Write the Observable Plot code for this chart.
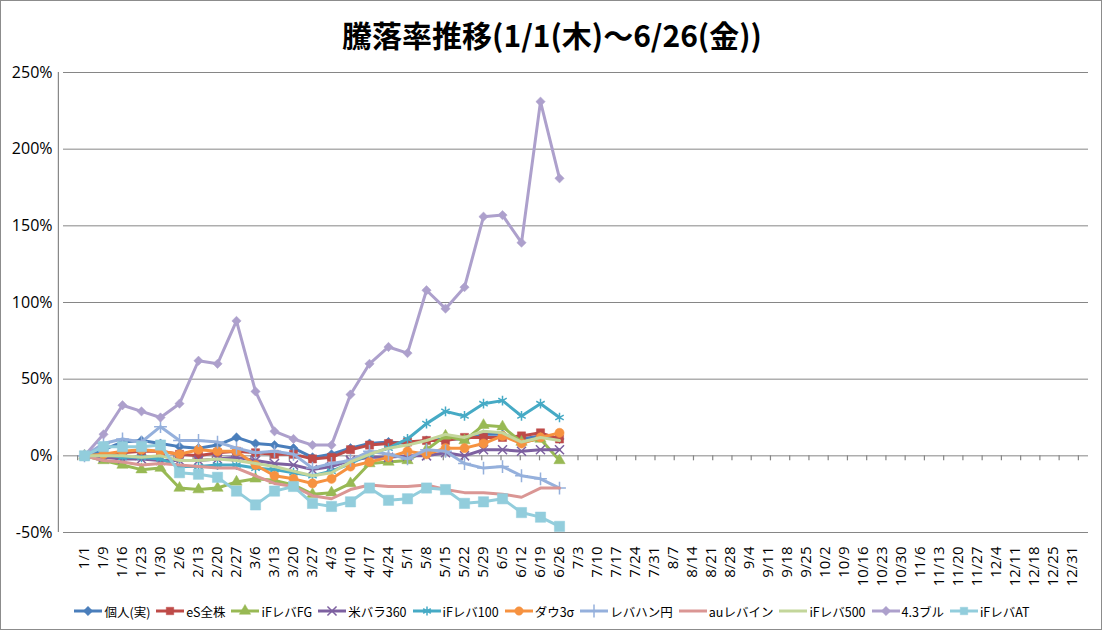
<!DOCTYPE html>
<html><head><meta charset="utf-8">
<script src="https://cdn.jsdelivr.net/npm/d3@7"></script>
<script src="https://cdn.jsdelivr.net/npm/@observablehq/plot@0.6"></script>
<style>
body{margin:0;background:#fff;}
#wrap{position:relative;width:1104px;height:631px;overflow:hidden;background:#fff;}
#frame{position:absolute;left:0;top:0;width:1102px;height:630px;box-sizing:border-box;border:1.5px solid #8c8c8c;pointer-events:none;}
#title{position:absolute;top:4px;left:0;width:1104px;height:60px;line-height:60px;text-align:center;font-family:"Noto Sans CJK JP",sans-serif;font-weight:700;font-size:30px;color:#000;}
#chart{position:absolute;left:0;top:60px;}
#legend{position:absolute;left:0;top:602px;width:1104px;display:flex;justify-content:center;gap:6px;font-family:"Noto Sans CJK JP",sans-serif;font-size:12.5px;color:#000;}
.item{display:flex;align-items:center;gap:2px;height:18px;}
.item svg{display:block;}
</style></head>
<body><div id="wrap"><div id="title">騰落率推移(1/1(木)～6/26(金))</div><div id="chart"></div><div id="legend"></div><div id="frame"></div></div>
<script>
const dates = ["1/1","1/9","1/16","1/23","1/30","2/6","2/13","2/20","2/27","3/6","3/13","3/20","3/27","4/3","4/10","4/17","4/24","5/1","5/8","5/15","5/22","5/29","6/5","6/12","6/19","6/26","7/3","7/10","7/17","7/24","7/31","8/7","8/14","8/21","8/28","9/4","9/11","9/18","9/25","10/2","10/9","10/16","10/23","10/30","11/6","11/13","11/20","11/27","12/4","12/11","12/18","12/25","12/31"];
const yTicks = [-50, 0, 50, 100, 150, 200, 250];

const kojin   = [0,4,9,10,8,6,5,7,12,8,7,5,-1,1,5,8,9,8,10,11,11,14,14,11,13,11];
const eS      = [0,1,2,3,3,1,0,2,3,2,1,1,-2,-1,4,7,8,9,10,10,12,12,12,13,15,11];
const iFFG    = [0,-3,-6,-9,-8,-21,-22,-21,-17,-15,-16,-19,-25,-24,-18,-5,-4,-3,4,13,10,20,19,9,11,-3];
const beiBara = [0,-1,-2,-2,-3,-3,-3,-2,-1,-3,-5,-6,-9,-7,-3,-1,-1,0,0,2,0,4,4,3,4,4];
const iF100   = [0,1,-1,-1,-2,-7,-7,-6,-6,-8,-9,-11,-13,-10,-5,1,5,11,21,29,26,34,36,26,34,25];
const dow3s   = [0,1,3,4,3,1,4,3,3,-6,-13,-15,-18,-15,-7,-4,-1,3,1,5,5,8,13,8,12,15];
const levaHan = [0,8,11,9,19,10,10,9,5,2,3,1,-8,-5,-3,3,1,-2,4,3,-5,-8,-7,-13,-15,-21];
const auLeva  = [0,-3,-4,-6,-5,-6,-7,-8,-8,-13,-18,-20,-26,-28,-22,-19,-20,-20,-19,-22,-24,-24,-25,-27,-21,-21];
const iF500   = [0,0,0,-1,0,-3,-3,-2,-3,-5,-7,-10,-13,-11,-4,1,5,7,10,14,12,16,15,9,12,10];
const bull43  = [0,14,33,29,25,34,62,60,88,42,16,11,7,7,40,60,71,67,108,96,110,156,157,139,231,181];
const iFAT    = [0,6,6,6,7,-11,-12,-14,-23,-32,-23,-20,-31,-33,-30,-21,-29,-28,-21,-22,-31,-30,-28,-37,-40,-46];

const seriesNames = ["個人(実)","eS全株","iFレバFG","米バラ360","iFレバ100","ダウ3σ","レバハン円","auレバイン","iFレバ500","4.3ブル","iFレバAT"];
const seriesValues = [kojin, eS, iFFG, beiBara, iF100, dow3s, levaHan, auLeva, iF500, bull43, iFAT];
const seriesColors = ["#4A7EBB","#BE4B48","#98B954","#7D60A0","#46AAC5","#F69240","#95B0DC","#DA9694","#C3D69B","#ADA0CC","#92CDDC"];
const seriesSymbols = ["diamond2","square","triangle","times","asterisk","circle","plus",null,null,"diamond2","square"];
const seriesR = [4.2,4.6,4.2,4.2,4.6,4.6,4.2,0,0,4.2,5.8];
const strokeSymbols = new Set(["times","asterisk","plus"]);

const marks = [
  Plot.gridY(yTicks, {stroke:"#868686", strokeOpacity:1, strokeWidth:1}),
  Plot.axisY(yTicks, {tickSize:5, tickPadding:11, tickFormat:d=>d+"%", fontSize:16, stroke:"#868686"}),
  Plot.axisX({anchor:"bottom", tickRotate:-90, tickSize:0, tickPadding:14, fontSize:15, label:null})
];
seriesNames.forEach((name, s) => {
  const rows = seriesValues[s].map((v, i) => ({date: dates[i], value: v}));
  marks.push(Plot.line(rows, {x:"date", y:"value", stroke:seriesColors[s], strokeWidth:3, strokeLinejoin:"round", strokeLinecap:"round"}));
  const sym = seriesSymbols[s];
  if (sym) {
    const isStroke = strokeSymbols.has(sym);
    marks.push(Plot.dot(rows, {x:"date", y:"value", symbol: sym, r: seriesR[s],
      fill: isStroke ? "none" : seriesColors[s],
      stroke: seriesColors[s], strokeWidth: isStroke ? 1.5 : 0.5}));
  }
});

const xPadding = 0.5;
const chart = Plot.plot({
  width: 1104, height: 530,
  marginLeft: 68, marginRight: 16, marginTop: 12, marginBottom: 58,
  style: {fontFamily: "'Open Sans', sans-serif", color:"#000", background:"transparent", overflow:"visible"},
  x: {type:"point", domain: dates, padding: xPadding, label:null},
  y: {domain:[-50, 250], label:null},
  marks
});
document.getElementById("chart").appendChild(chart);

// y axis line and category tick marks on the zero line (Excel-style)
const xs = chart.scale("x"), ys = chart.scale("y");
const [r0, r1] = xs.range;
const step = (r1 - r0) / (xs.domain.length - 1 + 2 * xPadding);
const left = r0 - step * xPadding;
const svg = d3.select(chart);
const g = svg.append("g").attr("stroke", "#868686").attr("stroke-width", 1.2);
g.append("line").attr("x1", left).attr("x2", left).attr("y1", ys.apply(250)).attr("y2", ys.apply(-50));
const y0 = ys.apply(0);
for (let k = 0; k <= xs.domain.length; k++) {
  const xx = left + k * step;
  g.append("line").attr("x1", xx).attr("x2", xx).attr("y1", y0).attr("y2", y0 + 5);
}
// bring series to front
svg.selectAll("g[aria-label='line'], g[aria-label='dot']").raise();

// legend
const legend = document.getElementById("legend");
seriesNames.forEach((name, s) => {
  const item = document.createElement("div");
  item.className = "item";
  const ns = "http://www.w3.org/2000/svg";
  const sv = document.createElementNS(ns, "svg");
  sv.setAttribute("width", 28); sv.setAttribute("height", 14);
  const ln = document.createElementNS(ns, "line");
  ln.setAttribute("x1", 0); ln.setAttribute("x2", 28); ln.setAttribute("y1", 7); ln.setAttribute("y2", 7);
  ln.setAttribute("stroke", seriesColors[s]); ln.setAttribute("stroke-width", 3);
  sv.appendChild(ln);
  const sym = seriesSymbols[s];
  if (sym) {
    const map = {diamond2:d3.symbolDiamond2, square:d3.symbolSquare, triangle:d3.symbolTriangle, times:d3.symbolTimes, asterisk:d3.symbolAsterisk, circle:d3.symbolCircle, plus:d3.symbolPlus};
    const p = document.createElementNS(ns, "path");
    const rr = Math.min(seriesR[s], 4.2);
    p.setAttribute("d", d3.symbol(map[sym], rr * rr * Math.PI)());
    p.setAttribute("transform", "translate(14,7)");
    const isStroke = strokeSymbols.has(sym);
    p.setAttribute("fill", isStroke ? "none" : seriesColors[s]);
    p.setAttribute("stroke", seriesColors[s]);
    p.setAttribute("stroke-width", isStroke ? 1.5 : 0.5);
    sv.appendChild(p);
  }
  item.appendChild(sv);
  const lab = document.createElement("span");
  lab.textContent = name;
  item.appendChild(lab);
  legend.appendChild(item);
});
</script></body></html>
